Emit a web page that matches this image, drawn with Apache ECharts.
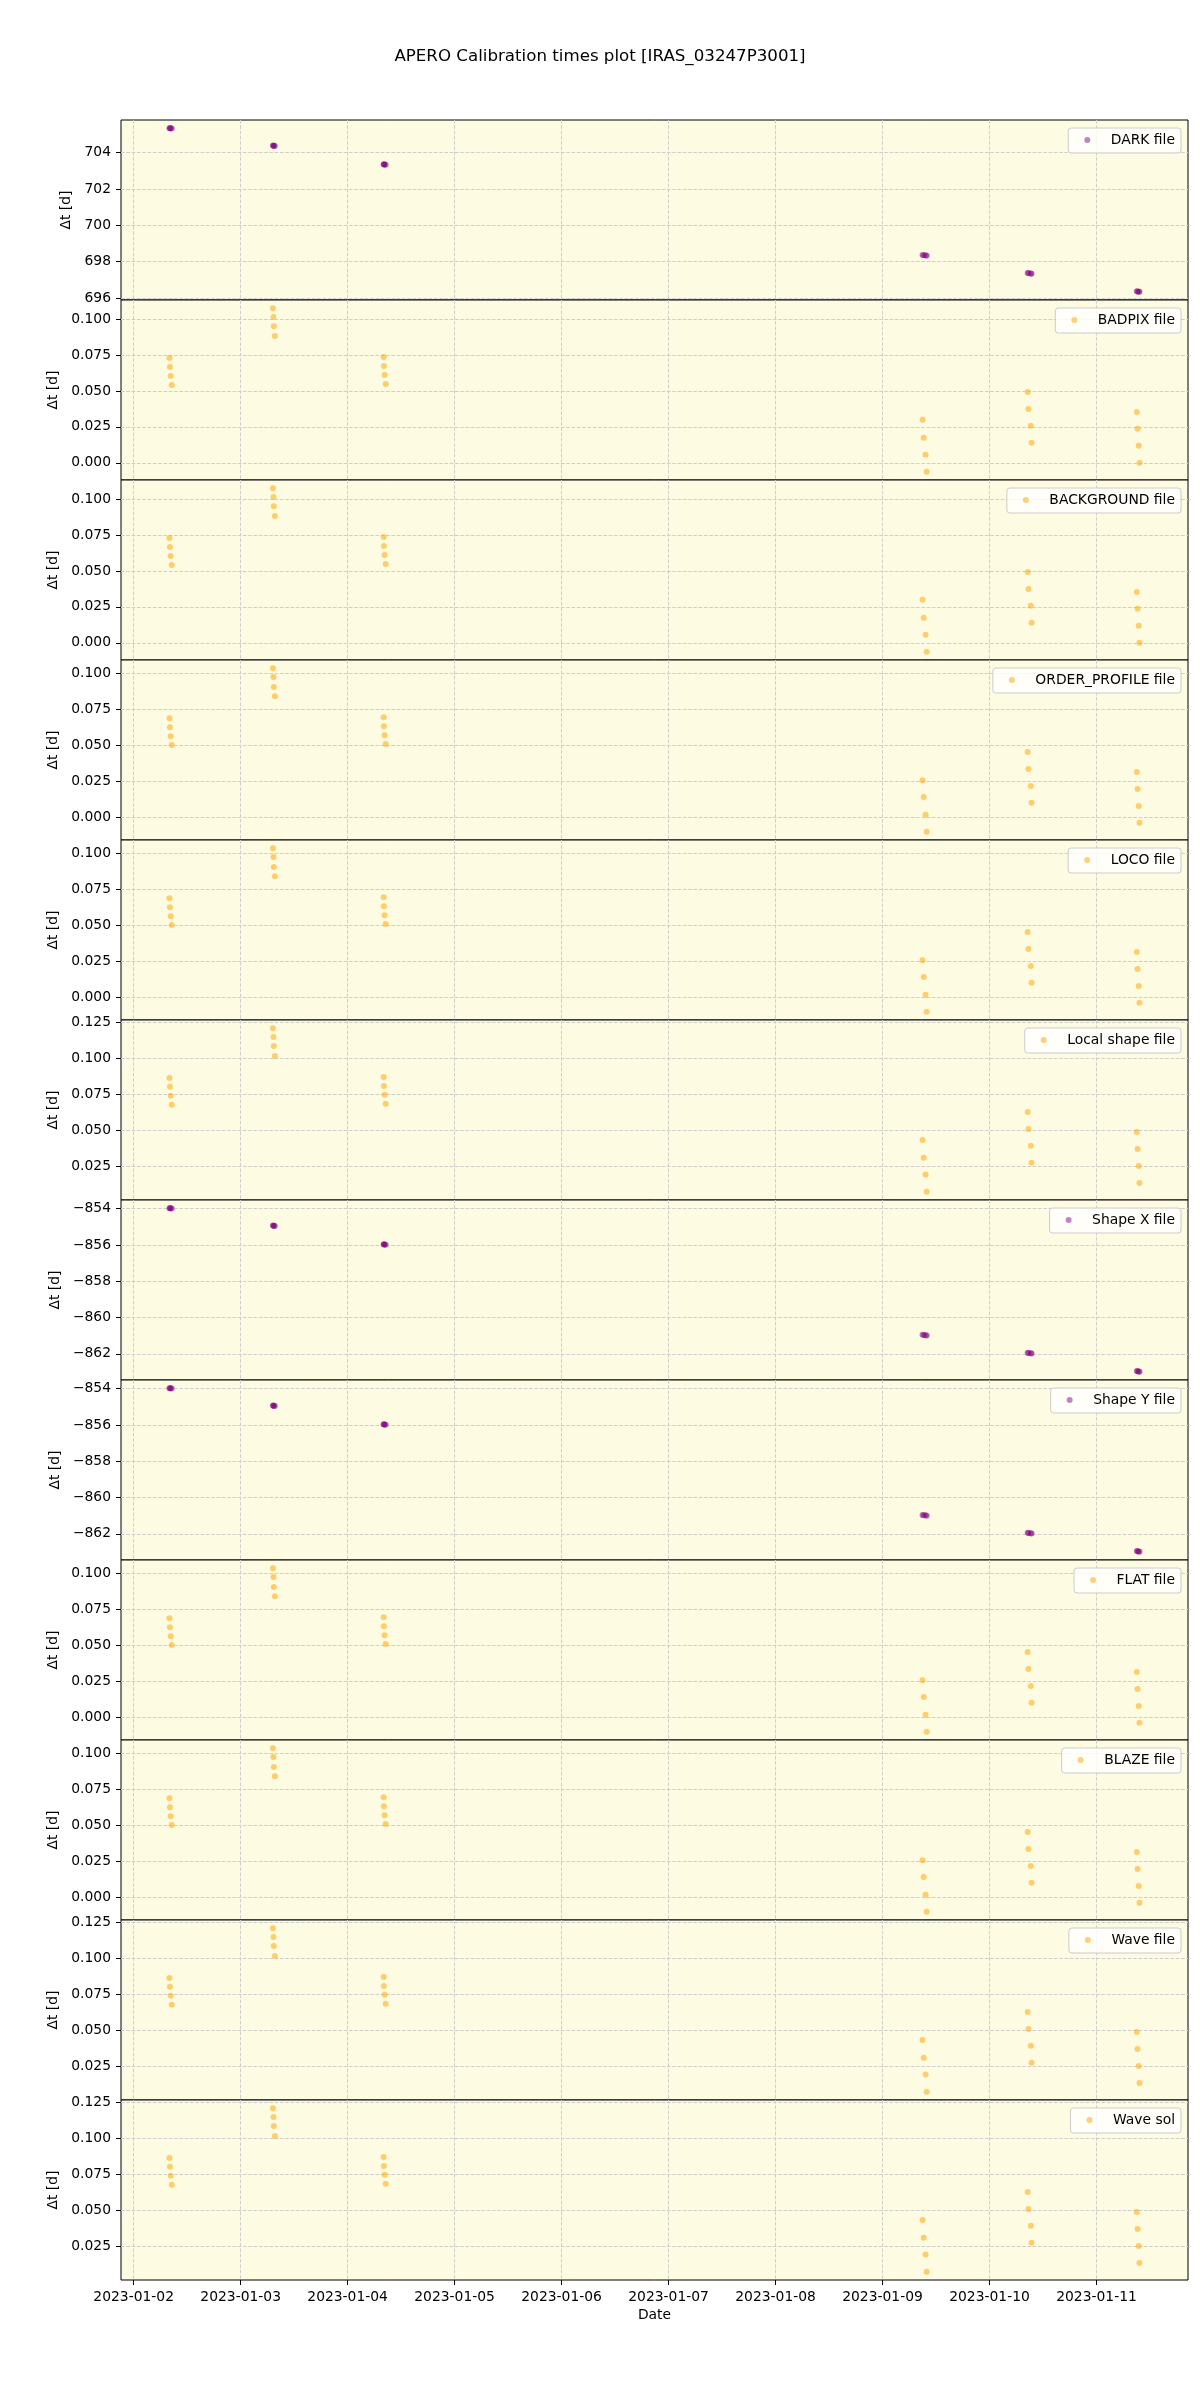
<!DOCTYPE html>
<html>
<head>
<meta charset="utf-8">
<script src="https://cdn.jsdelivr.net/npm/echarts@6/dist/echarts.min.js"></script>
<style>
html,body{margin:0;padding:0;background:#ffffff;}
#chart{width:1200px;height:2400px;}
</style>
</head>
<body>
<div id="chart"></div>
<script>
// ---------------- DATA ----------------
const chartTitle = 'APERO Calibration times plot [IRAS_03247P3001]';

// observation times, as day of January 2023 (fractional)
const obsDays = [2.335, 2.339, 2.346, 2.356, 3.302, 3.307, 3.310, 3.320,
                 4.337, 4.339, 4.346, 4.356, 9.374, 9.385, 9.403, 9.413,
                 10.357, 10.364, 10.386, 10.393, 11.377, 11.384, 11.395, 11.402];

const panelLabels = ['DARK file', 'BADPIX file', 'BACKGROUND file', 'ORDER_PROFILE file',
                     'LOCO file', 'Local shape file', 'Shape X file', 'Shape Y file',
                     'FLAT file', 'BLAZE file', 'Wave file', 'Wave sol'];

const darkDt = [705.35, 705.34, 705.34, 705.33, 704.39, 704.38, 704.38, 704.37,
                703.36, 703.35, 703.35, 703.34, 698.37, 698.36, 698.35, 698.33,
                697.38, 697.37, 697.35, 697.34, 696.37, 696.36, 696.35, 696.34];
const badpixDt = [0.0729, 0.0667, 0.0604, 0.0542, 0.1076, 0.1014, 0.0951, 0.0882,
                  0.0736, 0.0674, 0.0611, 0.0549, 0.0299, 0.0174, 0.0056, -0.0063,
                  0.0493, 0.0375, 0.0257, 0.0139, 0.0354, 0.0236, 0.0118, 0.0000];
const backgroundDt = [0.0729, 0.0667, 0.0604, 0.0542, 0.1076, 0.1014, 0.0951, 0.0882,
                      0.0736, 0.0674, 0.0611, 0.0549, 0.0299, 0.0174, 0.0056, -0.0063,
                      0.0493, 0.0375, 0.0257, 0.0139, 0.0354, 0.0236, 0.0118, 0.0000];
const orderProfileDt = [0.0687, 0.0625, 0.0562, 0.0500, 0.1035, 0.0974, 0.0904, 0.0840,
                        0.0694, 0.0631, 0.0569, 0.0507, 0.0256, 0.0139, 0.0015, -0.0103,
                        0.0452, 0.0333, 0.0215, 0.0099, 0.0313, 0.0194, 0.0077, -0.0040];
const locoDt = [0.0687, 0.0625, 0.0562, 0.0500, 0.1035, 0.0974, 0.0904, 0.0840,
                0.0694, 0.0631, 0.0569, 0.0507, 0.0256, 0.0139, 0.0015, -0.0103,
                0.0452, 0.0333, 0.0215, 0.0099, 0.0313, 0.0194, 0.0077, -0.0040];
const localShapeDt = [0.0864, 0.0802, 0.0739, 0.0677, 0.1211, 0.1149, 0.1086, 0.1017,
                      0.0870, 0.0808, 0.0746, 0.0684, 0.0432, 0.0307, 0.0190, 0.0070,
                      0.0626, 0.0508, 0.0391, 0.0272, 0.0487, 0.0368, 0.0250, 0.0131];
const shapeXDt = [-853.97, -853.98, -853.98, -853.99, -854.93, -854.94, -854.94, -854.95,
                  -855.96, -855.97, -855.97, -855.98, -860.95, -860.96, -860.97, -860.99,
                  -861.94, -861.95, -861.96, -861.98, -862.95, -862.96, -862.97, -862.99];
const shapeYDt = [-853.97, -853.98, -853.98, -853.99, -854.93, -854.94, -854.94, -854.95,
                  -855.96, -855.97, -855.97, -855.98, -860.96, -860.97, -860.98, -861.00,
                  -861.94, -861.95, -861.96, -861.98, -862.95, -862.96, -862.97, -862.99];
const flatDt = [0.0687, 0.0625, 0.0562, 0.0500, 0.1035, 0.0974, 0.0904, 0.0840,
                0.0694, 0.0631, 0.0569, 0.0507, 0.0256, 0.0139, 0.0015, -0.0103,
                0.0452, 0.0333, 0.0215, 0.0099, 0.0313, 0.0194, 0.0077, -0.0040];
const blazeDt = [0.0687, 0.0625, 0.0562, 0.0500, 0.1035, 0.0974, 0.0904, 0.0840,
                 0.0694, 0.0631, 0.0569, 0.0507, 0.0256, 0.0139, 0.0015, -0.0103,
                 0.0452, 0.0333, 0.0215, 0.0099, 0.0313, 0.0194, 0.0077, -0.0040];
const waveFileDt = [0.0864, 0.0802, 0.0739, 0.0677, 0.1211, 0.1149, 0.1086, 0.1017,
                    0.0870, 0.0808, 0.0746, 0.0684, 0.0432, 0.0307, 0.0190, 0.0070,
                    0.0626, 0.0508, 0.0391, 0.0272, 0.0487, 0.0368, 0.0250, 0.0131];
const waveSolDt = [0.0864, 0.0802, 0.0739, 0.0677, 0.1211, 0.1149, 0.1086, 0.1017,
                   0.0870, 0.0808, 0.0746, 0.0684, 0.0432, 0.0307, 0.0190, 0.0070,
                   0.0626, 0.0508, 0.0391, 0.0272, 0.0487, 0.0368, 0.0250, 0.0131];

// tick values / labels
const xTickDays = [2, 3, 4, 5, 6, 7, 8, 9, 10, 11];
const xTickLabels = ['2023-01-02', '2023-01-03', '2023-01-04', '2023-01-05', '2023-01-06',
                     '2023-01-07', '2023-01-08', '2023-01-09', '2023-01-10', '2023-01-11'];
const darkTicks = [696, 698, 700, 702, 704];
const smallTicksA = [0.000, 0.025, 0.050, 0.075, 0.100];
const smallTicksB = [0.025, 0.050, 0.075, 0.100, 0.125];
const shapeTicks = [-862, -860, -858, -856, -854];

// ---------------- BUILD ----------------
const FONT = 'DejaVu Sans';
const FS = 13.89;
const PURPLE = 'rgba(128,0,128,0.6)';
const ORANGE = 'rgba(255,165,0,0.65)';

const panelData = [darkDt, badpixDt, backgroundDt, orderProfileDt, locoDt, localShapeDt,
                   shapeXDt, shapeYDt, flatDt, blazeDt, waveFileDt, waveSolDt];
const panelTicks = [darkTicks, smallTicksA, smallTicksA, smallTicksA, smallTicksA, smallTicksB,
                    shapeTicks, shapeTicks, smallTicksA, smallTicksA, smallTicksB, smallTicksB];
const panelColors = [PURPLE, ORANGE, ORANGE, ORANGE, ORANGE, ORANGE,
                     PURPLE, PURPLE, ORANGE, ORANGE, ORANGE, ORANGE];

const canvas = document.createElement('canvas');
const ctx = canvas.getContext('2d');
ctx.font = FS + 'px "' + FONT + '"';

function fmtTick(v, dec) {
  return v.toFixed(dec).replace('-', '\u2212');
}

const xLo = Math.min(...obsDays), xHi = Math.max(...obsDays);
const xPad = (xHi - xLo) * 0.05;
const xMin = xLo - xPad, xMax = xHi + xPad;

const GRID_TOP = 120, GRID_H = 180, GRID_LEFT = 121, GRID_RIGHT = 12;
const N = panelLabels.length;
const grids = [], xAxes = [], yAxes = [], series = [], legends = [];

for (let i = 0; i < N; i++) {
  const vals = panelData[i];
  const lo = Math.min(...vals), hi = Math.max(...vals);
  const pad = (hi - lo) * 0.05;
  const ticks = panelTicks[i];
  const dec = (ticks[1] - ticks[0]) < 1 ? 3 : 0;
  const maxW = Math.max(...ticks.map(t => ctx.measureText(fmtTick(t, dec)).width));
  const last = i === N - 1;

  grids.push({
    left: GRID_LEFT, right: GRID_RIGHT, top: GRID_TOP + i * GRID_H, height: GRID_H,
    show: true, backgroundColor: '#fdfbe2', borderColor: '#000000', borderWidth: 1
  });

  xAxes.push({
    gridIndex: i, type: 'value', min: xMin, max: xMax,
    axisLine: { show: false, onZero: false },
    axisTick: { show: last, customValues: xTickDays, length: 5, lineStyle: { color: '#000', width: 1 } },
    axisLabel: {
      show: last, customValues: xTickDays, margin: 10, color: '#000', fontSize: FS, fontFamily: FONT,
      formatter: v => xTickLabels[xTickDays.indexOf(Math.round(v))]
    },
    splitLine: { show: true, lineStyle: { color: '#cfcfcf', width: 1, type: [3.7, 1.6] } },
    name: last ? 'Date' : '', nameLocation: 'middle', nameGap: 28,
    nameTextStyle: { color: '#000', fontSize: FS, fontFamily: FONT }
  });

  yAxes.push({
    gridIndex: i, type: 'value', min: lo - pad, max: hi + pad,
    axisLine: { show: false, onZero: false },
    axisTick: { show: true, customValues: ticks, length: 5, lineStyle: { color: '#000', width: 1 } },
    axisLabel: {
      show: true, customValues: ticks, margin: 10, color: '#000', fontSize: FS, fontFamily: FONT,
      formatter: v => fmtTick(v, dec)
    },
    splitLine: { show: true, lineStyle: { color: '#cfcfcf', width: 1, type: [3.7, 1.6] } },
    name: '\u0394t [d]', nameLocation: 'middle', nameGap: 15 + maxW,
    nameTextStyle: { color: '#000', fontSize: FS, fontFamily: FONT }
  });

  series.push({
    type: 'scatter', name: panelLabels[i], xAxisIndex: i, yAxisIndex: i,
    data: obsDays.map((d, k) => [d, vals[k]]),
    symbol: 'circle', symbolSize: 6,
    itemStyle: { color: panelColors[i] },
    emphasis: { disabled: true }, silent: true
  });

  legends.push({
    data: [panelLabels[i]], right: 19, top: GRID_TOP + i * GRID_H + 8,
    orient: 'horizontal', padding: [5, 6, 6, 16], itemWidth: 37, itemHeight: 6, icon: 'circle',
    backgroundColor: 'rgba(255,255,255,0.8)', borderColor: '#cccccc', borderWidth: 1, borderRadius: 3,
    selectedMode: false,
    textStyle: { color: '#000', fontSize: FS, fontFamily: FONT, lineHeight: 14 }
  });
}

const option = {
  animation: false,
  backgroundColor: '#ffffff',
  title: {
    text: chartTitle, left: 'center', top: 48.5, padding: 0,
    textStyle: { color: '#000', fontSize: 16.67, fontWeight: 'normal', fontFamily: FONT }
  },
  legend: legends,
  grid: grids,
  xAxis: xAxes,
  yAxis: yAxes,
  series: series
};

const chart = echarts.init(document.getElementById('chart'), null, { renderer: 'canvas' });
chart.setOption(option);
</script>
</body>
</html>
